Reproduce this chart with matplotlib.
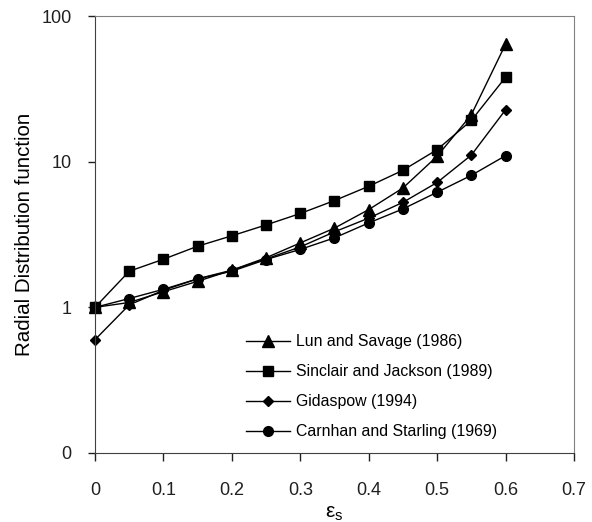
import numpy as np
import matplotlib
matplotlib.use("Agg")
import matplotlib.pyplot as plt
from matplotlib.ticker import FixedLocator, FuncFormatter, NullLocator

plt.rcParams["font.family"] = ["Liberation Sans", "DejaVu Sans"]
plt.rcParams["mathtext.fontset"] = "custom"
plt.rcParams["mathtext.rm"] = "Liberation Sans"
plt.rcParams["mathtext.it"] = "Liberation Sans"

# solids volume fraction
eps_s = [0.0, 0.05, 0.1, 0.15, 0.2, 0.25, 0.3, 0.35, 0.4, 0.45, 0.5, 0.55, 0.6]

# radial distribution function for each model
lun_savage = [1.0, 1.08, 1.28, 1.51, 1.80, 2.19, 2.77, 3.5, 4.69, 6.6, 10.9, 21.0, 64.0]
sinclair_jackson = [1.0, 1.77, 2.14, 2.63, 3.10, 3.68, 4.41, 5.41, 6.78, 8.73, 12.1, 19.2, 38.0]
gidaspow = [0.6, 1.04, 1.31, 1.57, 1.80, 2.15, 2.6, 3.3, 4.1, 5.26, 7.2, 11.1, 22.7]
carnhan_starling = [1.0, 1.15, 1.33, 1.57, 1.77, 2.13, 2.5, 3.0, 3.8, 4.74, 6.17, 8.06, 11.0]

labels = ["Lun and Savage (1986)", "Sinclair and Jackson (1989)",
          "Gidaspow (1994)", "Carnhan and Starling (1969)"]
series = [lun_savage, sinclair_jackson, gidaspow, carnhan_starling]
markers = ["^", "s", "D", "o"]
msizes = [8.5, 6.8, 5.6, 7]

fig = plt.figure(figsize=(5.92, 5.22), dpi=100)
ax = fig.add_axes([0.1605, 0.1322, 0.809, 0.837])

for y, lab, m, ms in zip(series, labels, markers, msizes):
    ax.plot(eps_s, y, color="black", lw=1.0, marker=m, markersize=ms,
            label=lab, clip_on=False)

ax.set_yscale("log")
ax.set_xlim(0, 0.7)
ax.set_ylim(0.1, 100)
ax.set_xticks(np.arange(0, 0.71, 0.1))
ax.xaxis.set_major_formatter(FuncFormatter(lambda v, p: "0" if v == 0 else f"{v:.1f}"))
ax.yaxis.set_major_locator(FixedLocator([0.1, 1, 10, 100]))
ax.yaxis.set_minor_locator(NullLocator())
# Excel-style integer labels, 0.1 shows as "0"
ax.yaxis.set_major_formatter(FuncFormatter(lambda v, p: f"{v:.0f}"))
ax.tick_params(direction="out", length=5, width=1, labelsize=13,
               colors="#202020")
ax.tick_params(axis="x", pad=15, length=6)
ax.tick_params(axis="y", pad=12)

for side in ["top", "right"]:
    ax.spines[side].set_color("#808080")
for side in ["left", "bottom"]:
    ax.spines[side].set_color("#404040")

ax.set_ylabel("Radial Distribution function", fontsize=14.8, labelpad=5)
ax.set_xlabel(r"$\mathrm{ε_s}$", fontsize=15)
ax.xaxis.set_label_coords(0.5, -0.116)

ax.legend(loc="upper left", bbox_to_anchor=(0.315, 0.272), frameon=False,
          fontsize=11.4, handlelength=2.8, labelspacing=0.95,
          handletextpad=0.38, borderaxespad=0, borderpad=0)

fig.savefig("out.png", dpi=100)
